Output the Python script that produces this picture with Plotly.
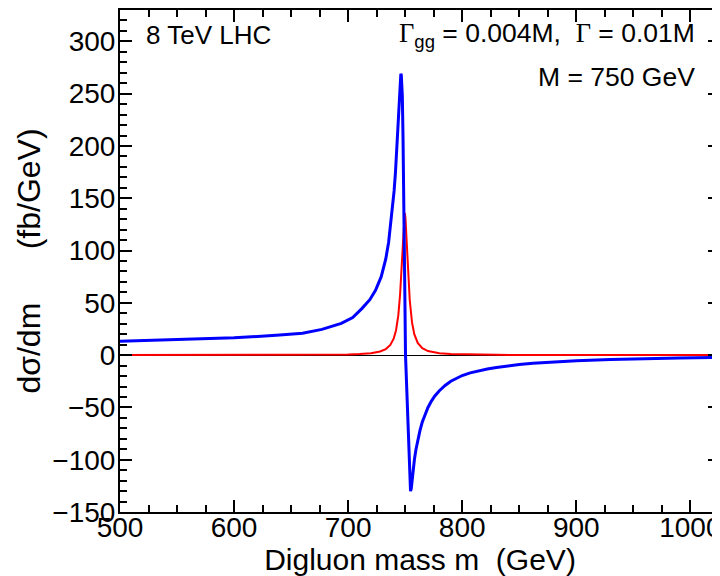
import plotly.graph_objects as go

# digluon mass (GeV) and dsigma/dm (fb/GeV)
m_blue = [500, 550, 600, 640, 660, 677, 694, 704, 712, 719, 724, 729, 733, 735.5,
          737.3, 739, 740.3, 741.5, 742.5, 743.5, 744.5, 745.3, 745.8, 746.2, 746.6, 746.9, 747.5,
          748.1, 748.6, 749.1, 749.7, 750.3, 751.0, 751.8, 752.7, 753.5, 754.1, 754.7,
          755.3, 756.0, 757.0, 758.2, 759.5, 761, 763, 765, 767.5, 770, 773, 776, 780,
          785, 790, 795, 800, 807, 815, 822, 830, 840, 850, 862, 875, 900, 930, 960, 990, 1026]
dsig_blue = [13.2, 14.6, 16.5, 19.2, 21.0, 24.6, 30.4, 36.0, 44.5, 53.0, 62.0, 75.0, 92.0, 108.0,
             125.0, 142.0, 157.0, 175.0, 194.0, 213.0, 237.0, 256.0, 265.0, 269.0, 268.0, 264.0, 248.0,
             210.0, 175.0, 128.0, 60.0, 0.0, -22.0, -48.0, -75.0, -100.0, -120.0, -130.0,
             -128.0, -120.0, -109.0, -99.0, -90.0, -81.0, -72.0, -64.0, -56.0, -50.0, -44.0, -39.0, -34.0,
             -29.0, -25.0, -22.0, -19.5, -17.0, -14.8, -13.2, -11.8, -10.3, -9.0, -7.8, -6.8, -5.3, -4.2,
             -3.3, -2.7, -2.1]

m_red = [500, 550, 600, 650, 680, 700, 710, 720, 728, 733, 737, 740, 742, 744, 745.5,
         746.5, 747.5, 748.5, 749.2, 749.6, 750.2, 751, 752, 753, 754, 756, 758, 761,
         765, 770, 780, 790, 800, 830, 870, 920, 970, 1026]
dsig_red = [0.03, 0.04, 0.07, 0.17, 0.34, 0.68, 1.05, 1.9, 3.5, 5.8, 9.7, 16.0, 23.8, 38.2, 57.3,
            76.2, 100.0, 123.8, 134.2, 136.0, 132.0, 117.0, 92.5, 70.0, 52.7, 31.3, 20.1, 11.7,
            6.7, 3.9, 1.8, 1.0, 0.65, 0.26, 0.11, 0.06, 0.03, 0.02]

x_range = [500, 1026]
y_range = [-150, 330]

font = "Liberation Sans, Arial, sans-serif"

fig = go.Figure()
fig.add_trace(go.Scatter(x=m_red, y=dsig_red, mode="lines",
                         line=dict(color="#ff0000", width=2)))
fig.add_trace(go.Scatter(x=m_blue, y=dsig_blue, mode="lines",
                         line=dict(color="#0000ff", width=3)))

axis_common = dict(
    showline=True, linecolor="black", linewidth=2, mirror="allticks",
    ticks="inside", ticklen=12, tickwidth=1.5, tickcolor="black",
    showgrid=False, automargin=False,
    tickfont=dict(family=font, size=28, color="black"),
)

fig.update_xaxes(
    range=x_range, dtick=100, tick0=500,
    minor=dict(dtick=25, ticks="inside", ticklen=7, tickwidth=1.5, tickcolor="black"),
    title=dict(text="Digluon mass m  (GeV)", font=dict(family=font, size=30, color="black"),
               standoff=0),
    ticklabelstandoff=-11,
    zeroline=False,
    **axis_common,
)
fig.update_yaxes(
    range=y_range, dtick=50, tick0=0,
    minor=dict(dtick=10, ticks="inside", ticklen=7, tickwidth=1.5, tickcolor="black"),
    title=dict(text="d\u03c3/dm      (fb/GeV)", font=dict(family=font, size=32, color="black"),
               standoff=2),
    ticklabelstandoff=-3,
    zeroline=True, zerolinecolor="black", zerolinewidth=1.2,
    **axis_common,
)

fig.add_annotation(x=0.04, y=0.95, xref="paper", yref="paper", xanchor="left", yanchor="middle",
                   text="8 TeV LHC", showarrow=False,
                   font=dict(family=font, size=26, color="black"))
fig.add_annotation(x=0.962, y=0.95, xref="paper", yref="paper", xanchor="right", yanchor="middle",
                   text="<span style='font-family:Liberation Serif'>\u0393</span><sub>gg</sub> = 0.004M,  "
                        "<span style='font-family:Liberation Serif'>\u0393</span> = 0.01M",
                   showarrow=False, font=dict(family=font, size=26.5, color="black"))
fig.add_annotation(x=0.962, y=0.867, xref="paper", yref="paper", xanchor="right", yanchor="middle",
                   text="M = 750 GeV", showarrow=False,
                   font=dict(family=font, size=26.5, color="black"))

# the page adds an 8px offset, so the margins are shifted to land the frame on the reference
fig.update_layout(
    width=720, height=576,
    margin=dict(l=112, r=8, t=2, b=72),
    plot_bgcolor="white", paper_bgcolor="white",
    showlegend=False,
)

fig.write_html("out.html")
